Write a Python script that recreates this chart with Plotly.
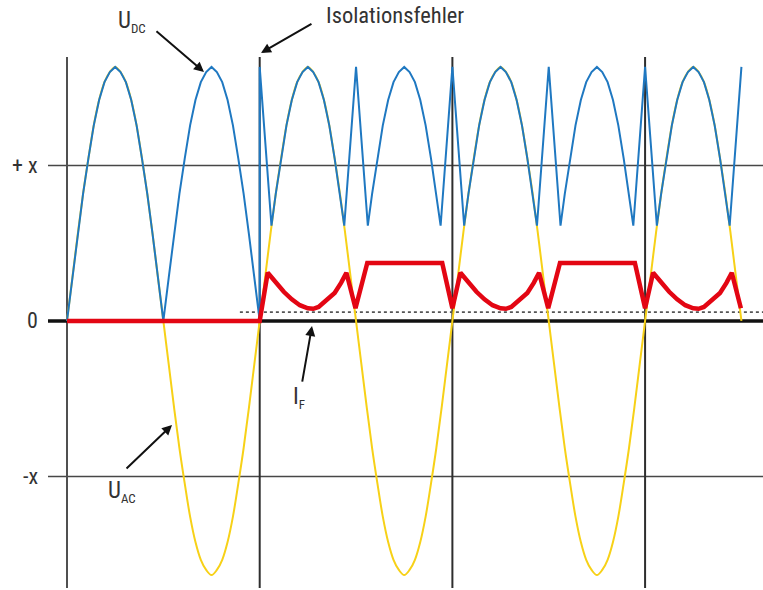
import plotly.graph_objects as go

# ---------------- data (phase in degrees, amplitude normalised to U_AC peak) ----------------
half_wave_phase = [0, 10, 20, 30, 40, 50, 60, 70, 80, 90, 100, 110, 120, 130, 140, 150, 160, 170, 180]
half_wave_value = [0.0, 0.17, 0.34, 0.50, 0.64, 0.77, 0.87, 0.94, 0.98, 1.0,
                   0.98, 0.94, 0.87, 0.77, 0.64, 0.50, 0.34, 0.17, 0.0]
ac_half_wave_signs = [1, -1, 1, -1, 1, -1, 1]      # seven half waves of U_AC

fault_phase = 360            # Isolationsfehler
dc_valley_phase = 22         # U_DC valley after the fault
dc_valley_value = 0.375
dc_spike_value = 1.0

if_phase = [0, 15, 30, 45, 60, 75, 90, 100, 110, 125, 140, 152, 162, 179, 201, 341, 360]
if_value = [0.05, 0.19, 0.15, 0.115, 0.085, 0.062, 0.05, 0.048, 0.055, 0.08, 0.11,
            0.15, 0.19, 0.05, 0.228, 0.228, 0.05]
end_phase = 1260

grid_phases = [0, 360, 720, 1080]
level_labels = ["+ x", "0", "-x"]
level_values = [0.612, 0.0, -0.612]
threshold_value = 0.035
threshold_start = 323

x_range = [-35.5, 1300.3]
y_range = [-1.051, 1.039]

# ---------------- build series ----------------
ac_x, ac_y = [], []
for k, s in enumerate(ac_half_wave_signs):
    for i, (p, v) in enumerate(zip(half_wave_phase, half_wave_value)):
        if k > 0 and i == 0:
            continue
        ac_x.append(180 * k + p)
        ac_y.append(s * v)

dc_x, dc_y = [], []
for k in range(len(ac_half_wave_signs)):
    start = 180 * k
    if start < fault_phase:
        for i, (p, v) in enumerate(zip(half_wave_phase, half_wave_value)):
            if k > 0 and i == 0:
                continue
            dc_x.append(start + p)
            dc_y.append(v)
    else:
        if start == fault_phase:
            dc_x.append(start)
            dc_y.append(dc_spike_value)
        dc_x.append(start + dc_valley_phase)
        dc_y.append(dc_valley_value)
        for p, v in zip(half_wave_phase, half_wave_value):
            if dc_valley_phase < p < 180 - dc_valley_phase:
                dc_x.append(start + p)
                dc_y.append(v)
        dc_x.append(start + 180 - dc_valley_phase)
        dc_y.append(dc_valley_value)
        dc_x.append(start + 180)
        dc_y.append(dc_spike_value)

if_x = [0, fault_phase]
if_y = [0, 0]
z = fault_phase
while z < end_phase:
    for p, v in zip(if_phase[1:], if_value[1:]):
        if z + p > end_phase:
            break
        if_x.append(z + p)
        if_y.append(v)
    z += 360

YELLOW = "#f7d117"
BLUE = "#1f78c1"
RED = "#e30613"
TXT = "#333333"
FONT = "Roboto Condensed, Liberation Sans, sans-serif"

fig = go.Figure()
fig.add_trace(go.Scatter(x=ac_x, y=ac_y, mode="lines", line=dict(color=YELLOW, width=2, shape="spline"),
                         name="U_AC", hoverinfo="skip"))
fig.add_trace(go.Scatter(x=dc_x, y=dc_y, mode="lines", line=dict(color=BLUE, width=2),
                         name="U_DC", hoverinfo="skip"))
fig.add_trace(go.Scatter(x=if_x, y=if_y, mode="lines", line=dict(color=RED, width=4.5),
                         name="I_F", hoverinfo="skip"))

shapes = []
for v in level_values:
    if v == 0:
        continue
    shapes.append(dict(type="line", xref="paper", x0=0, x1=1, yref="y", y0=v, y1=v,
                       line=dict(color="#474747", width=1.6), layer="below"))
for gp in grid_phases:
    shapes.append(dict(type="line", xref="x", x0=gp, x1=gp, yref="paper", y0=0, y1=1,
                       line=dict(color="#505050" if gp == 0 else "#2e2e2e", width=2), layer="below"))
shapes.append(dict(type="line", xref="paper", x0=0, x1=1, yref="y", y0=0, y1=0,
                   line=dict(color="#111111", width=3.5), layer="below"))
shapes.append(dict(type="line", xref="x", x0=threshold_start, x1=x_range[1], yref="y",
                   y0=threshold_value, y1=threshold_value,
                   line=dict(color="#555555", width=1.6, dash="dot"), layer="below"))

annotations = []
for lab, v in zip(level_labels, level_values):
    annotations.append(dict(text=lab, xref="paper", x=-0.011, xanchor="right", yref="y", y=v,
                            yanchor="middle", showarrow=False, font=dict(size=22, color=TXT, family=FONT)))

# arrows: head position (x data, y ref/pos), tail offset in pixels
arrows = [
    (255.9, "y", 0.980, -49, -42),
    (362.4, "paper", 1.0075, 52, -30),
    (457.7, "y", -0.020, -10, 57),
    (196.2, "y", -0.409, -47, 45),
]
for hx, yr, hy, ax, ay in arrows:
    annotations.append(dict(text="", x=hx, y=hy, xref="x", yref=yr, ax=ax, ay=ay,
                            showarrow=True, arrowhead=2, arrowsize=1, arrowwidth=2,
                            arrowcolor="#111111", standoff=0))

SUB = '<sub><span style="font-size:13px;color:#333333">{}</span></sub>'
labels = [
    ("U" + SUB.format("DC"), 91.5, "paper", 1.066, 23),
    ("Isolationsfehler", 481.0, "paper", 1.079, 22.5),
    ("I" + SUB.format("F"), 418.0, "y", -0.30, 23),
    ("U" + SUB.format("AC"), 72.0, "y", -0.672, 23),
]
for t, x, yr, y, s in labels:
    annotations.append(dict(text=t, x=x, y=y, xref="x", yref=yr, xanchor="left", yanchor="middle",
                            showarrow=False, font=dict(size=s, color=TXT, family=FONT)))

fig.update_layout(
    width=763, height=590,
    margin=dict(l=48, r=0, t=57, b=2, pad=0),
    paper_bgcolor="white", plot_bgcolor="white",
    showlegend=False,
    xaxis=dict(range=x_range, visible=False, fixedrange=True),
    yaxis=dict(range=y_range, visible=False, fixedrange=True),
    shapes=shapes, annotations=annotations,
)

fig.write_html("out.html", config=dict(displayModeBar=False),
               post_script="document.body.style.margin='0';")
